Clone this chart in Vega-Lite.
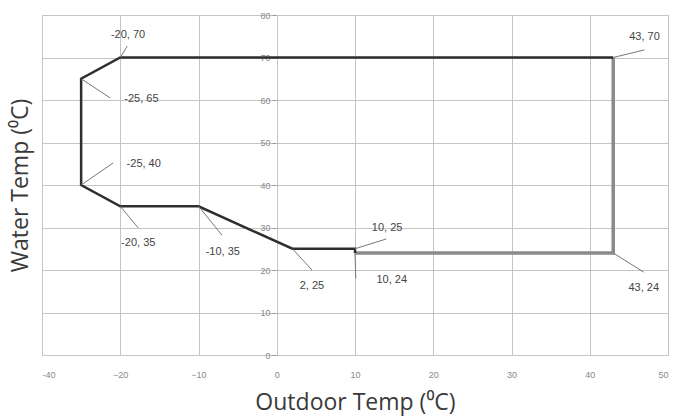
{
  "$schema": "https://vega.github.io/schema/vega-lite/v6.json",
  "width": 626,
  "height": 340,
  "autosize": "none",
  "padding": {"left": 42, "top": 15, "right": 6, "bottom": 63},
  "background": "#ffffff",
  "config": {
    "view": {"stroke": "#bdbdbd", "strokeWidth": 1},
    "axis": {"labelFont": "Liberation Sans", "titleFont": "Open Sans", "labelColor": "#888888", "labelFontSize": 9, "gridColor": "#c4c4c4", "gridOpacity": 1, "titleFontWeight": "normal", "titleColor": "#3a3a3a", "titleFontSize": 23}
  },
  "datasets": {
    "outline": [
      {"seg": "grey", "ord": 1, "x": 10, "y": 24},
      {"seg": "grey", "ord": 2, "x": 43, "y": 24},
      {"seg": "grey", "ord": 3, "x": 43, "y": 70},
      {"seg": "dark", "ord": 1, "x": 43, "y": 70},
      {"seg": "dark", "ord": 2, "x": -20, "y": 70},
      {"seg": "dark", "ord": 3, "x": -25, "y": 65},
      {"seg": "dark", "ord": 4, "x": -25, "y": 40},
      {"seg": "dark", "ord": 5, "x": -20, "y": 35},
      {"seg": "dark", "ord": 6, "x": -10, "y": 35},
      {"seg": "dark", "ord": 7, "x": 2, "y": 25},
      {"seg": "dark", "ord": 8, "x": 10, "y": 25},
      {"seg": "dark", "ord": 9, "x": 10, "y": 24}
    ],
    "labels": [
      {"label": "-20, 70", "x": -20, "y": 70, "lx": -19.1, "ly": 72.7, "tx": -19.0, "ty": 75.3},
      {"label": "43, 70", "x": 43, "y": 70, "lx": 47.0, "ly": 71.8, "tx": 47.0, "ty": 74.8},
      {"label": "-25, 65", "x": -25, "y": 65, "lx": -21.3, "ly": 60.5, "tx": -17.3, "ty": 60.2},
      {"label": "-25, 40", "x": -25, "y": 40, "lx": -20.9, "ly": 45.2, "tx": -17.0, "ty": 44.9},
      {"label": "-20, 35", "x": -20, "y": 35, "lx": -17.7, "ly": 29.9, "tx": -17.7, "ty": 26.4},
      {"label": "-10, 35", "x": -10, "y": 35, "lx": -7.0, "ly": 28.2, "tx": -6.9, "ty": 24.2},
      {"label": "2, 25", "x": 2, "y": 25, "lx": 4.5, "ly": 20.0, "tx": 4.5, "ty": 16.2},
      {"label": "10, 25", "x": 10, "y": 25, "lx": 14.0, "ly": 27.3, "tx": 14.1, "ty": 29.9},
      {"label": "10, 24", "x": 10, "y": 24, "lx": 10.1, "ly": 18.0, "tx": 14.7, "ty": 17.6},
      {"label": "43, 24", "x": 43, "y": 24, "lx": 46.9, "ly": 19.5, "tx": 46.9, "ty": 15.8}
    ]
  },
  "layer": [
    {
      "data": {"name": "outline"},
      "transform": [{"filter": "datum.seg == 'grey'"}],
      "mark": {"type": "line", "color": "#8a8a8a", "strokeWidth": 3.5, "strokeJoin": "miter"},
      "encoding": {
        "x": {"field": "x", "type": "quantitative", "scale": {"domain": [-30, 50], "nice": false, "zero": false},
              "axis": {"values": [-30, -20, -10, 0, 10, 20, 30, 40, 50], "labelExpr": "datum.value == -30 ? '-40' : datum.label", "ticks": false, "domain": false, "grid": true, "labelPadding": 15, "title": "Outdoor Temp (⁰C)", "titleY": 54, "titleBaseline": "alphabetic"}},
        "y": {"field": "y", "type": "quantitative", "scale": {"domain": [0, 80], "nice": false},
              "axis": {"orient": "left", "values": [0, 10, 20, 30, 40, 50, 60, 70, 80], "labels": false, "ticks": false, "domain": false, "title": "Water Temp (⁰C)", "titleX": -22, "titleY": 170, "titleAngle": -90, "titleBaseline": "middle", "titleAlign": "center"}},
        "order": {"field": "ord"}
      }
    },
    {
      "data": {"name": "outline"},
      "transform": [{"filter": "datum.seg == 'dark'"}],
      "mark": {"type": "line", "color": "#2e2e2e", "strokeWidth": 2.5, "strokeJoin": "miter"},
      "encoding": {
        "x": {"field": "x", "type": "quantitative"},
        "y": {"field": "y", "type": "quantitative",
              "axis": {"orient": "left", "offset": -234, "values": [0, 10, 20, 30, 40, 50, 60, 70, 80], "grid": false, "domain": false, "tickColor": "#999999", "tickSize": 4, "labelPadding": 2, "title": null}},
        "order": {"field": "ord"}
      }
    },
    {
      "data": {"name": "labels"},
      "mark": {"type": "rule", "color": "#777777", "strokeWidth": 1},
      "encoding": {
        "x": {"field": "x", "type": "quantitative"},
        "y": {"field": "y", "type": "quantitative", "axis": null},
        "x2": {"field": "lx"},
        "y2": {"field": "ly"}
      }
    },
    {
      "data": {"name": "labels"},
      "mark": {"type": "text", "font": "Liberation Sans", "fontSize": 11, "color": "#444444", "align": "center", "baseline": "middle"},
      "encoding": {
        "x": {"field": "tx", "type": "quantitative"},
        "y": {"field": "ty", "type": "quantitative", "axis": null},
        "text": {"field": "label"}
      }
    }
  ],
  "resolve": {"axis": {"y": "independent"}}
}
